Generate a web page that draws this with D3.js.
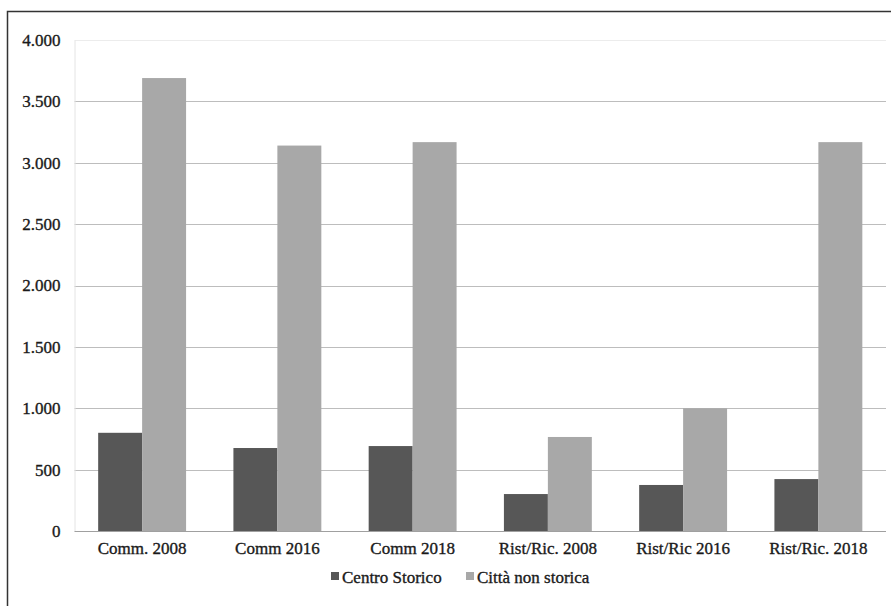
<!DOCTYPE html>
<html>
<head>
<meta charset="utf-8">
<script src="https://cdn.jsdelivr.net/npm/d3@7"></script>
<style>
  html, body { margin: 0; padding: 0; background: #fff; }
  svg { display: block; }
  svg text { stroke: #1a1a1a; stroke-width: 0.35px; }
</style>
</head>
<body>
<svg id="chart" width="891" height="606"></svg>
<script>
// Categories and series
const categories = ["Comm. 2008", "Comm 2016", "Comm 2018", "Rist/Ric. 2008", "Rist/Ric 2016", "Rist/Ric. 2018"];
const seriesNames = ["Centro Storico", "Città non storica"];
const centroStorico = [800, 676, 692, 301, 375, 423];
const cittaNonStorica = [3690, 3140, 3168, 766, 1000, 3168];
const yTicks = [0, 500, 1000, 1500, 2000, 2500, 3000, 3500, 4000];
const seriesColors = ["#575757", "#a8a8a8"];

const FONT = "Liberation Serif, DejaVu Serif, serif";
const svg = d3.select("#chart");
const W = 891, H = 606;

// Outer frame
svg.append("rect")
  .attr("x", 7.5).attr("y", 11.5)
  .attr("width", W + 10).attr("height", H + 10)
  .attr("fill", "none").attr("stroke", "#333").attr("stroke-width", 1.5);

const plot = { left: 74.5, right: 886, top: 40, bottom: 531 };

const x0 = d3.scaleBand().domain(categories).range([plot.left, plot.right]).paddingInner(0.35).paddingOuter(0.175);
const x1 = d3.scaleBand().domain(seriesNames).range([0, x0.bandwidth()]).padding(0);
const y = d3.scaleLinear().domain([0, 4000]).range([plot.bottom, plot.top]);

const fmt = v => d3.format(",")(v).replace(/,/g, ".");

// Gridlines
svg.append("g")
  .selectAll("line")
  .data(yTicks.filter(t => t > 0))
  .join("line")
  .attr("x1", plot.left).attr("x2", plot.right)
  .attr("y1", d => Math.round(y(d)) + 0.5).attr("y2", d => Math.round(y(d)) + 0.5)
  .attr("stroke", d => d === 4000 ? "#ececec" : "#bdbdbd")
  .attr("stroke-width", 1);

// Y axis labels
const yAxis = d3.axisLeft(y).tickValues(yTicks).tickFormat(fmt).tickSize(0).tickPadding(14);
const gy = svg.append("g").attr("transform", `translate(${plot.left},0)`).call(yAxis)
  .attr("font-family", FONT).attr("font-size", 17);
gy.select(".domain").attr("stroke", "#e4e4e4");
gy.selectAll("text").attr("fill", "#1a1a1a");

// Bars
const rows = categories.map((c, i) => ({ cat: c, vals: [centroStorico[i], cittaNonStorica[i]] }));
const groups = svg.append("g").selectAll("g")
  .data(rows).join("g")
  .attr("transform", d => `translate(${x0(d.cat)},0)`);
groups.selectAll("rect")
  .data(d => d.vals.map((v, k) => ({ name: seriesNames[k], v, k })))
  .join("rect")
  .attr("x", d => x1(d.name))
  .attr("width", x1.bandwidth())
  .attr("y", d => y(d.v))
  .attr("height", d => y(0) - y(d.v))
  .attr("fill", d => seriesColors[d.k]);

// X axis baseline and labels
const xAxis = d3.axisBottom(x0).tickSize(0).tickPadding(11);
const gx = svg.append("g").attr("transform", `translate(0,${plot.bottom})`).call(xAxis)
  .attr("font-family", FONT).attr("font-size", 17);
gx.select(".domain").attr("stroke", "#a0a0a0").attr("d", `M${plot.left},0.5H${plot.right}`);
gx.selectAll("text").attr("fill", "#1a1a1a");

// Legend
const legendItems = [{ x: 331, name: seriesNames[0], c: seriesColors[0] }, { x: 466, name: seriesNames[1], c: seriesColors[1] }];
const lg = svg.append("g").attr("font-family", FONT).attr("font-size", 17).attr("fill", "#1a1a1a")
  .selectAll("g").data(legendItems).join("g")
  .attr("transform", d => `translate(${d.x},572)`);
lg.append("rect").attr("width", 8).attr("height", 8).attr("fill", d => d.c);
lg.append("text").attr("x", 11).attr("y", 10.5)
  .text(d => d.name);
</script>
</body>
</html>
